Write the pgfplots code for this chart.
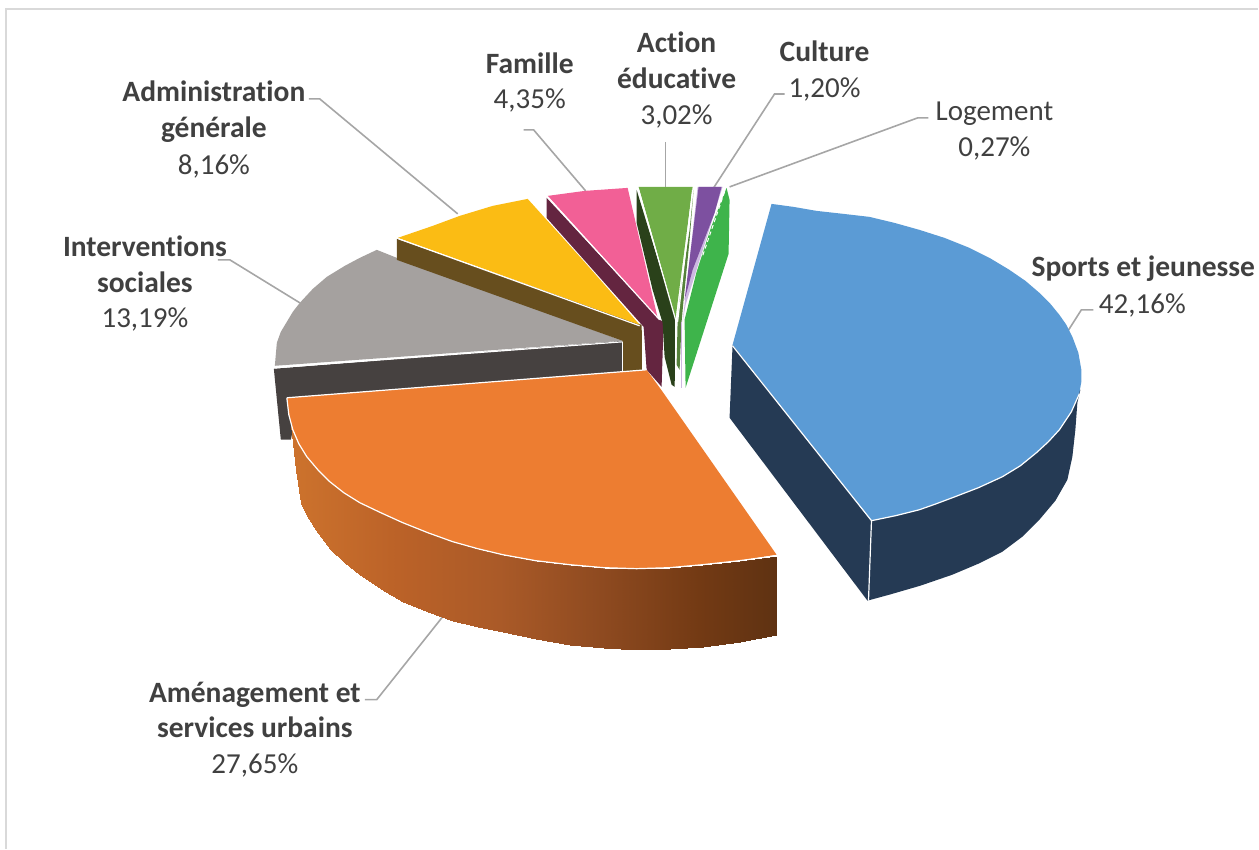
\documentclass[border=0pt]{standalone}
\usepackage{fontspec}
\setmainfont[Ligatures=CommonOff]{Carlito}
\usepackage{pgfplots}
\pgfplotsset{compat=1.18}
\definecolor{txt}{RGB}{64,64,64}
\definecolor{lead}{RGB}{166,166,166}
\definecolor{frame}{RGB}{217,217,217}
\definecolor{cblue}{RGB}{91,155,213}
\definecolor{dblue}{RGB}{37,58,84}
\definecolor{corange}{RGB}{237,125,49}
\definecolor{cgrey}{RGB}{165,161,159}
\definecolor{dgrey}{RGB}{70,65,64}
\definecolor{cyellow}{RGB}{251,188,20}
\definecolor{dyellow}{RGB}{103,78,30}
\definecolor{cpink}{RGB}{242,96,150}
\definecolor{dpink}{RGB}{100,37,64}
\definecolor{colive}{RGB}{112,173,71}
\definecolor{dolive}{RGB}{42,65,26}
\definecolor{molive}{RGB}{85,130,58}
\definecolor{cpurple}{RGB}{125,80,160}
\definecolor{lpurple}{RGB}{205,185,225}
\definecolor{cgreen}{RGB}{62,180,75}
\newcommand{\lb}[3]{\node[anchor=base,text=txt,font=\fontsize{29.5}{32}\selectfont\bfseries] at (axis cs:#1,#2) {#3};}
\newcommand{\lr}[3]{\node[anchor=base,text=txt,font=\fontsize{29}{32}\selectfont] at (axis cs:#1,#2) {#3};}
\begin{document}
\begin{tikzpicture}
\begin{axis}[
  scale only axis, width=1259pt, height=849pt,
  xmin=0, xmax=1259, ymin=0, ymax=849, y dir=reverse,
  hide axis, clip=false, no markers,
  point meta min=290, point meta max=777,
  colormap={sidegrad}{rgb255(0)=(205,115,45); rgb255(22)=(187,98,40); rgb255(43)=(170,90,40); rgb255(64)=(142,74,32); rgb255(84)=(115,58,20); rgb255(100)=(95,50,18)},
]
\path (axis cs:0,0) rectangle (axis cs:1259,849);
% frame
\addplot[frame,line width=1.5pt] coordinates {(6,849) (6,9) (1259,9)};
% leader lines
\addplot[lead,line width=1.6pt] coordinates {(309,99) (320,99) (458,214)};
\addplot[lead,line width=1.6pt] coordinates {(218,260) (230,260) (300,303)};
\addplot[lead,line width=1.6pt] coordinates {(524,130) (534,130) (586,191)};
\addplot[lead,line width=1.6pt] coordinates {(666,142) (666,187)};
\addplot[lead,line width=1.6pt] coordinates {(785,94) (775,94) (714,188)};
\addplot[lead,line width=1.6pt] coordinates {(929,118) (918,118) (730,187)};
\addplot[lead,line width=1.6pt] coordinates {(1094,310) (1082,310) (1068,332)};
\addplot[lead,line width=1.6pt] coordinates {(365,700) (377,700) (443,617)};
% Interventions sociales: side then top
\addplot[fill=dgrey,draw=none] coordinates {(274,369) (623,341) (623,373) (300,398) (291,440) (281,440)};
\addplot[fill=cgrey,draw=none] coordinates {(275,366) (277,343) (281,332) (287,322) (293,312) (300,303) (313,289) (327,277) (345,266) (360,258) (377,250) (397,258) (623,341)};
\addplot[white,line width=1.2pt] coordinates {(275,368) (623,342)};
% Administration generale: side then top
\addplot[fill=dyellow,draw=none] coordinates {(397,239) (642,325) (643,370) (623,373) (623,341) (397,260)};
\addplot[fill=cyellow,draw=none] coordinates {(398,238) (433,226) (460,216) (493,206) (528,199) (583,260) (640,325)};
\addplot[white,line width=1.2pt] coordinates {(399,239) (640,326)};
\addplot[white,line width=1pt] coordinates {(623,342) (623,372)};
\addplot[white,line width=1pt] coordinates {(643,328) (643,370)};
% Famille: side then top
\addplot[fill=dpink,draw=none] coordinates {(547,198) (660,320) (664,322) (662,387) (647,370) (644,327) (547,218)};
\addplot[fill=cpink,draw=none] coordinates {(548,196) (585,191) (628,188) (658,318)};
\addplot[white,line width=1.2pt] coordinates {(548,197) (660,320)};
% Action educative: side then top
\addplot[fill=dolive,draw=none] coordinates {(637,190) (676,318) (676,345) (675,387) (672,385) (665,357) (663,323) (653,290) (637,223)};
\addplot[fill=molive,draw=none] coordinates {(694,190) (690,240) (684,300) (682,322) (680,370) (677,365) (678,322) (681,290) (690,230)};
\addplot[fill=colive,draw=none] coordinates {(639,187) (693,187) (676,318)};
\addplot[white,line width=1.2pt] coordinates {(639,190) (676,320) (676,388)};
\addplot[white,line width=1.2pt] coordinates {(693,190) (678,322)};
% Culture
\addplot[lpurple,line width=1.5pt] coordinates {(682,322) (682,388)};
\addplot[fill=lpurple,draw=none] coordinates {(698,187) (723,187) (686,305) (683,322)};
\addplot[fill=cpurple,draw=none] coordinates {(699,187) (722,187) (715,213) (693,270) (685,300)};
% Logement
\addplot[fill=cgreen,draw=none] coordinates {(727,188) (730,200) (729,254) (686,388) (685,320) (697,272) (712,226)};
\addplot[white,line width=1pt,dash pattern=on 4pt off 3pt] coordinates {(725,192) (703,256)};
% Sports et jeunesse: side then top
\addplot[fill=dblue,draw=none] coordinates {(733,345) (730,418) (868,601) (890,595) (921,586) (953,575) (979,564) (1003,552) (1023,537) (1040,520) (1056,501) (1068,480) (1073,457) (1076,430) (1078,403) (1081,390)};
\addplot[fill=cblue,draw=none] coordinates {(772,204) (794,207) (817,211) (844,214) (870,217) (895,223) (920,230) (945,238) (970,248) (990,258) (1010,270) (1026,281) (1040,293) (1051,304) (1060,315) (1067,325) (1073,337) (1079,353) (1082,370) (1082,382) (1080,393) (1072,412) (1060,430) (1049,442) (1037,453) (1021,466) (1003,477) (979,488) (953,498) (937,504) (920,510) (896,516) (872,521) (733,345)};
\addplot[white,line width=1.2pt] coordinates {(733,346) (872,521) (896,516) (920,510) (937,504) (953,498) (979,488) (1003,477) (1021,466) (1037,453) (1049,442) (1060,430) (1072,412) (1080,394)};
\addplot[white,line width=1.2pt] coordinates {(872,521) (869,601)};
% Amenagement: side (shaded) then top
\addplot[patch,patch type=rectangle,shader=interp,point meta=x] coordinates {
(291,425) (296,440) (296,470) (291,425)
(296,440) (301,449) (301,503) (296,470)
(301,449) (307,457) (307,516) (301,503)
(307,457) (318,470) (318,533) (307,516)
(318,470) (330,482) (330,549) (318,533)
(330,482) (344,493) (344,562) (330,549)
(344,493) (360,503) (360,575) (344,562)
(360,503) (381,513) (381,589) (360,575)
(381,513) (403,523) (403,602) (381,589)
(403,523) (428,533) (428,612) (403,602)
(428,533) (453,542) (453,621) (428,612)
(453,542) (478,549) (478,627) (453,621)
(478,549) (503,555) (503,632) (478,627)
(503,555) (536,561) (536,639) (503,632)
(536,561) (570,565) (570,645) (536,639)
(570,565) (604,568) (604,648) (570,645)
(604,568) (637,569) (637,650) (604,648)
(637,569) (670,568) (670,649) (637,650)
(670,568) (703,565) (703,647) (670,649)
(703,565) (740,561) (740,642) (703,647)
(740,561) (777,556) (776,635) (740,642)
};
\addplot[fill=corange,draw=none] coordinates {(287,398) (647,370) (663,392) (777,555) (740,561) (703,565) (670,568) (637,569) (604,568) (570,565) (536,561) (503,555) (478,549) (453,542) (428,533) (403,523) (381,513) (360,503) (344,493) (330,482) (318,470) (307,457) (299,444) (293,430) (289,415)};
\addplot[white,line width=1.2pt] coordinates {(287,398) (647,370)};
\addplot[white,line width=1.2pt] coordinates {(287,398) (289,415) (293,430) (299,444) (307,457) (318,470) (330,482) (344,493) (360,503) (381,513) (403,523) (428,533) (453,542) (478,549) (503,555) (536,561) (570,565) (604,568) (637,569) (670,568) (703,565) (740,561) (777,556)};
% labels
\lb{1144}{277}{Sports et jeunesse}
\lr{1143}{314}{42,16\%}
\lr{995}{121}{Logement}
\lr{995}{157}{0,27\%}
\lb{825}{62}{Culture}
\lr{825}{98}{1,20\%}
\lb{677}{53}{Action}
\lb{677}{89}{éducative}
\lr{677}{125}{3,02\%}
\lb{530}{74}{Famille}
\lr{530}{109}{4,35\%}
\lb{214}{102}{Administration}
\lb{214}{138}{générale}
\lr{214}{175}{8,16\%}
\lb{145}{257}{Interventions}
\lb{145}{293}{sociales}
\lr{145}{328}{13,19\%}
\lb{255}{703}{Aménagement et}
\lb{255}{738}{services urbains}
\lr{255}{774}{27,65\%}
\end{axis}
\end{tikzpicture}
\end{document}
